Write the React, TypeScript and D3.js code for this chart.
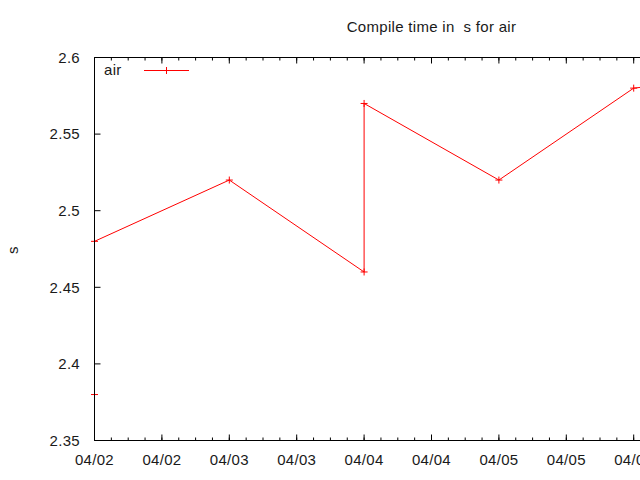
import React from "react";
import * as d3 from "d3";

const dates: string[] = [
  "2013-04-02T00:00:00Z",
  "2013-04-02T00:00:00Z",
  "2013-04-03T00:00:00Z",
  "2013-04-04T00:00:00Z",
  "2013-04-04T00:00:00Z",
  "2013-04-05T00:00:00Z",
  "2013-04-06T00:00:00Z",
  "2013-04-07T00:00:00Z",
];
const values: number[] = [2.38, 2.48, 2.52, 2.46, 2.57, 2.52, 2.58, 2.59];
const yTicks: number[] = [2.35, 2.4, 2.45, 2.5, 2.55, 2.6];
const xDomain: string[] = ["2013-04-02T00:00:00Z", "2013-04-07T00:00:00Z"];
const title = "Compile time in  s for air";
const yLabel = "s";
const seriesName = "air";

const W = 640;
const H = 480;
const L = 94.5;
const R = 768.5;
const T = 57.5;
const B = 440.5;
const FONT = "'Liberation Sans', Arial, sans-serif";
const FS = 15;
const LS = 0.3;
const TXT = "#1a1a1a";
const RED = "#ff0000";

export default function App() {
  const x = d3
    .scaleUtc()
    .domain(xDomain.map((d) => new Date(d)))
    .range([L, R]);
  const y = d3.scaleLinear().domain([2.35, 2.6]).range([B, T]);
  const end = new Date(new Date(xDomain[1]).getTime() + 1);
  const majors = d3.utcHour.every(12)!.range(new Date(xDomain[0]), end);
  const minors = d3.utcHour.every(3)!.range(new Date(xDomain[0]), end);
  const fmt = d3.utcFormat("%m/%d");
  const pts = dates.map((d, i) => [x(new Date(d)), y(values[i])] as [number, number]);
  const line = d3.line()(pts) || "";
  const plus = (cx: number, cy: number, k: string | number) => (
    <path key={k} d={`M${cx - 3.5},${cy}H${cx + 3.5}M${cx},${cy - 3.5}V${cy + 3.5}`} stroke={RED} strokeWidth={1} />
  );
  const yfmt = (v: number) => String(+v.toFixed(2));
  return (
    <svg width={W} height={H} style={{ position: "absolute", left: 0, top: 0, background: "#fff" }} fontFamily={FONT} letterSpacing={LS}>
      <rect x={0} y={0} width={W} height={H} fill="#fff" />
      <g>
        <path d={line} fill="none" stroke={RED} strokeWidth={1} />
        {pts.map((p, i) => plus(p[0], p[1], i))}
      </g>
      <path d={`M${L},${T}V${B}H${R}V${T}Z`} fill="none" stroke="#000" strokeWidth={1} />
      {yTicks.map((t) => (
        <g key={"y" + t}>
          <path d={`M${L},${y(t)}H${L + 6}`} stroke="#000" />
          <text x={80} y={y(t)} dy="0.35em" textAnchor="end" fontSize={FS} fill={TXT}>
            {yfmt(t)}
          </text>
        </g>
      ))}
      {minors.map((d, i) => (
        <path key={"m" + i} d={`M${x(d)},${B}V${B - 3}M${x(d)},${T}V${T + 3}`} stroke="#000" />
      ))}
      {majors.map((d, i) => (
        <g key={"M" + i}>
          <path d={`M${x(d)},${B}V${B - 6}M${x(d)},${T}V${T + 6}`} stroke="#000" />
          <text x={x(d)} y={465} textAnchor="middle" fontSize={FS} fill={TXT}>
            {fmt(d)}
          </text>
        </g>
      ))}
      <text x={(L + R) / 2} y={32} textAnchor="middle" fontSize={FS} fill={TXT} style={{ whiteSpace: "pre" }}>
        {title}
      </text>
      <text transform="translate(18,250) rotate(-90)" textAnchor="middle" fontSize={FS} fill={TXT}>
        {yLabel}
      </text>
      <text x={104} y={75} fontSize={FS} fill={TXT}>
        {seriesName}
      </text>
      <path d="M144,70.5H189" stroke={RED} />
      {plus(166.5, 70.5, "leg")}
    </svg>
  );
}
